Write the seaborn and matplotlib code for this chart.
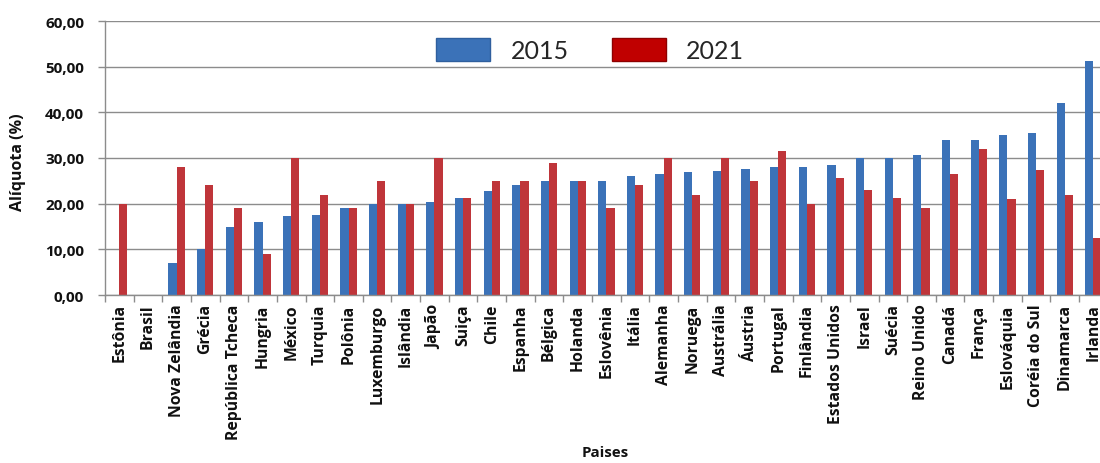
import numpy as np
import pandas as pd
import matplotlib
matplotlib.use("Agg")
import matplotlib.pyplot as plt
from matplotlib.patches import Patch
from matplotlib.ticker import FixedLocator, FuncFormatter
import seaborn as sns

# Corporate income tax rates by country (%)
paises = [
    "Estônia", "Brasil", "Nova Zelândia", "Grécia", "República Tcheca",
    "Hungria", "México", "Turquia", "Polônia", "Luxemburgo", "Islândia",
    "Japão", "Suiça", "Chile", "Espanha", "Bélgica", "Holanda", "Eslovênia",
    "Itália", "Alemanha", "Noruega", "Austrália", "Áustria", "Portugal",
    "Finlândia", "Estados Unidos", "Israel", "Suécia", "Reino Unido",
    "Canadá", "França", "Eslováquia", "Coréia do Sul", "Dinamarca", "Irlanda",
]
aliquota_2015 = [
    np.nan, np.nan, 7.0, 10.0, 15.0,
    16.0, 17.2, 17.5, 19.0, 20.0, 20.0,
    20.3, 21.2, 22.7, 24.0, 25.0, 25.0, 25.0,
    26.0, 26.5, 27.0, 27.2, 27.5, 28.0,
    28.0, 28.5, 30.0, 30.0, 30.6,
    33.9, 33.9, 35.0, 35.4, 42.0, 51.2,
]
aliquota_2021 = [
    20.0, np.nan, 28.0, 24.0, 19.0,
    9.0, 30.0, 22.0, 19.0, 25.0, 20.0,
    30.0, 21.2, 25.0, 25.0, 29.0, 25.0, 19.0,
    24.0, 30.0, 22.0, 30.0, 25.0, 31.5,
    20.0, 25.7, 23.0, 21.3, 19.0,
    26.5, 32.0, 21.0, 27.4, 22.0, 12.5,
]
anos = ["2015", "2021"]

df = pd.DataFrame({
    "Paises": paises * 2,
    "Aliquota": aliquota_2015 + aliquota_2021,
    "Ano": [anos[0]] * len(paises) + [anos[1]] * len(paises),
})

blue = "#3B72B8"
red = "#BF353A"
legend_red = "#C00000"
grey = "#8C8C8C"
ink = "#111111"
bold_family = ["Open Sans", "DejaVu Sans"]

sns.set_theme(style="white")
plt.rcParams["font.family"] = ["Lato", "DejaVu Sans"]

fig = plt.figure(figsize=(11.0, 4.64), dpi=100)
ax = fig.add_axes([105 / 1100, 1 - 296 / 464, 1002.7 / 1100, 274 / 464])

sns.barplot(
    data=df, x="Paises", y="Aliquota", hue="Ano", order=paises,
    hue_order=anos, palette=[blue, red], width=0.57, gap=0,
    saturation=1, errorbar=None, legend=False, ax=ax,
)
for p in ax.patches:
    p.set_linewidth(0)

ax.set_xlim(-0.5, len(paises) - 0.5)
ax.set_ylim(0, 60)
ax.set_yticks(np.arange(0, 61, 10))
ax.yaxis.set_major_formatter(FuncFormatter(lambda v, _: f"{v:.2f}".replace(".", ",")))
ax.grid(axis="y", color=grey, linewidth=1.0)
ax.set_axisbelow(True)

for side in ("top", "right"):
    ax.spines[side].set_visible(False)
for side in ("left", "bottom"):
    ax.spines[side].set_color(grey)
    ax.spines[side].set_linewidth(1.0)

# Category boundaries carry the tick marks on the x axis
ax.xaxis.set_minor_locator(FixedLocator(np.arange(-0.5, len(paises), 1.0)))
ax.tick_params(axis="x", which="major", length=0, pad=6)
ax.tick_params(axis="x", which="minor", length=5, width=1, color=grey, direction="out", bottom=True)
ax.tick_params(axis="y", which="major", length=5, width=1, color=grey, direction="out", left=True, pad=10)

ax.set_xticks(range(len(paises)))
ax.set_xticklabels(paises, rotation=90, fontsize=11.3, fontweight="bold", color=ink, family=bold_family)
for lbl in ax.get_yticklabels():
    lbl.set_fontsize(11)
    lbl.set_fontweight("bold")
    lbl.set_color(ink)
    lbl.set_family(bold_family)

ax.set_xlabel("Paises", fontsize=10.8, fontweight="bold", color=ink, family=bold_family)
ax.set_ylabel("Alíquota (%)", fontsize=11.5, fontweight="bold", color=ink, family=bold_family)
ax.xaxis.set_label_coords((605 - 105) / 1002.7, -(446 - 296) / 274)
ax.yaxis.set_label_coords(-(105 - 26) / 1002.7, (296 - 162) / 274)

handles = [
    Patch(facecolor=blue, edgecolor="#2F5F9E", label=anos[0]),
    Patch(facecolor=legend_red, edgecolor="#8E0000", label=anos[1]),
]
fig.legend(
    handles=handles, loc="center", bbox_to_anchor=(590 / 1100, 1 - 51 / 464),
    ncol=2, frameon=False, fontsize=18, handlelength=2.16, handleheight=1.05,
    handletextpad=0.8, columnspacing=1.72,
)

fig.savefig("out.png", dpi=100)
